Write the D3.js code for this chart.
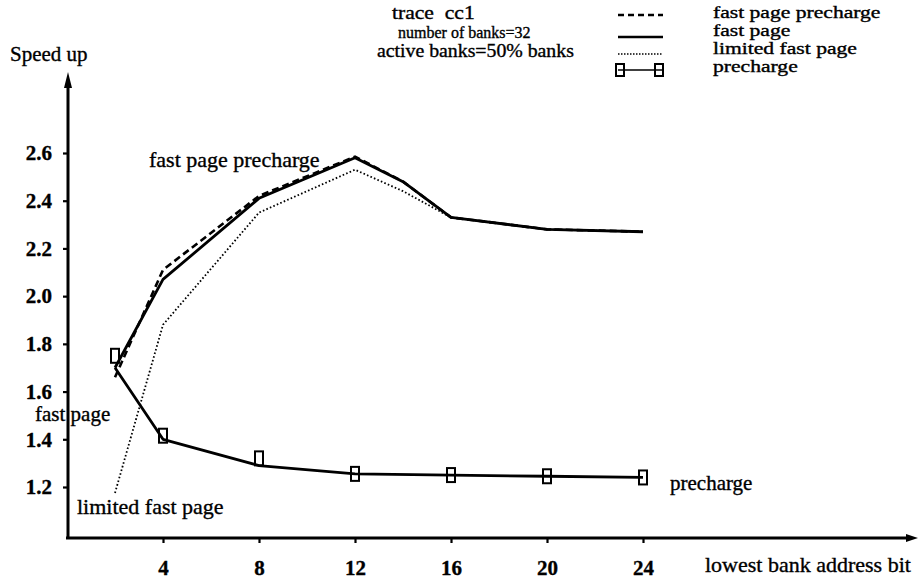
<!DOCTYPE html>
<html>
<head>
<meta charset="utf-8">
<script src="https://cdn.jsdelivr.net/npm/d3@7"></script>
<style>
  body { margin: 0; background: #fff; }
  svg text { font-family: "Liberation Serif", "Times New Roman", serif; fill: #000; stroke: #000; stroke-width: 0.35px; white-space: pre; }
</style>
</head>
<body>
<svg width="918" height="583"></svg>
<script>
// lowest bank address bit (x) and speed up (y)
let bits = [2, 4, 8, 12, 14, 16, 20, 24];
let fastPagePrecharge = [1.66, 2.11, 2.42, 2.585, 2.48, 2.33, 2.28, 2.27];
let fastPage = [1.70, 2.07, 2.41, 2.58, 2.48, 2.33, 2.28, 2.27];
let limitedFastPage = [1.175, 1.88, 2.35, 2.53, 2.44, 2.33, 2.28, 2.27];
let prechargeBits = [2, 4, 8, 12, 16, 20, 24];
let precharge = [1.70, 1.40, 1.29, 1.255, 1.25, 1.245, 1.24];
let prechargeMarks = [1.75, 1.415, 1.32, 1.255, 1.25, 1.245, 1.24];
let xTicks = [4, 8, 12, 16, 20, 24];
let yTicks = [1.2, 1.4, 1.6, 1.8, 2.0, 2.2, 2.4, 2.6];
let titleLines = ["trace  cc1", "number of banks=32", "active banks=50% banks"];
let legendNames = ["fast page precharge", "fast page", "limited fast page", "precharge"];

let svg = d3.select("svg");

let x = d3.scaleLinear().domain([0, 24]).range([67, 643]);
let y = d3.scaleLinear().domain([1.2, 2.6]).range([487, 153]);
let axisY = 538;   // where the x axis line sits
let axisX = 68;    // where the y axis line sits

// axes
let yAxis = svg.append("g")
  .attr("transform", "translate(" + axisX + ",0)")
  .call(d3.axisLeft(y).tickValues(yTicks).tickFormat(d3.format(".1f")).tickSize(5).tickPadding(11));
yAxis.select(".domain").remove();

let xAxis = svg.append("g")
  .attr("transform", "translate(0," + axisY + ")")
  .call(d3.axisBottom(x).tickValues(xTicks).tickFormat(d3.format("d")).tickSize(5).tickPadding(17));
xAxis.select(".domain").remove();

svg.selectAll(".tick line").attr("stroke", "#000").attr("stroke-width", 2.2);
svg.selectAll(".tick text")
  .style("font-size", "21px")
  .style("font-weight", "bold");

// axis lines with arrows
svg.append("line")
  .attr("x1", axisX).attr("y1", 84).attr("x2", axisX).attr("y2", axisY + 1)
  .attr("stroke", "#000").attr("stroke-width", 3);
svg.append("path")
  .attr("d", "M" + (axisX - 4) + ",88L" + axisX + ",72L" + (axisX + 4) + ",88Z")
  .attr("fill", "#000");
svg.append("line")
  .attr("x1", axisX - 2).attr("y1", axisY).attr("x2", 910).attr("y2", axisY)
  .attr("stroke", "#000").attr("stroke-width", 3);
svg.append("path")
  .attr("d", "M906," + (axisY - 4) + "L918," + axisY + "L906," + (axisY + 4) + "Z")
  .attr("fill", "#000");

// curves
let lineGen = d3.line()
  .x(d => x(d[0]))
  .y(d => y(d[1]));

let series = [
  { name: legendNames[2], xs: bits, vals: limitedFastPage, dash: "1.6,2.2", w: 1.8 },
  { name: legendNames[0], xs: bits, vals: fastPagePrecharge, dash: "7,4", w: 2.6 },
  { name: legendNames[1], xs: bits, vals: fastPage, dash: null, w: 2.8 },
  { name: legendNames[3], xs: prechargeBits, vals: precharge, dash: null, w: 2.8 }
];

svg.append("g")
  .selectAll("path")
  .data(series)
  .join("path")
    .attr("fill", "none")
    .attr("stroke", "#000")
    .attr("stroke-width", d => d.w)
    .attr("stroke-dasharray", d => d.dash)
    .attr("stroke-linejoin", "round")
    .attr("d", d => lineGen(d.xs.map((b, i) => [b, d.vals[i]])));

// precharge square marks
svg.append("g")
  .selectAll("rect")
  .data(prechargeBits.map((b, i) => [b, prechargeMarks[i]]))
  .join("rect")
    .attr("x", d => x(d[0]) - 4)
    .attr("y", d => y(d[1]) - 7)
    .attr("width", 8)
    .attr("height", 14)
    .attr("fill", "none")
    .attr("stroke", "#000")
    .attr("stroke-width", 2);

// labels
svg.append("text").attr("x", 10).attr("y", 61).style("font-size", "21px").text("Speed up");
svg.append("text").attr("x", 705).attr("y", 572).style("font-size", "22px").text("lowest bank address bit");
svg.append("text").attr("x", 149).attr("y", 167).style("font-size", "22px").text("fast page precharge");
svg.append("text").attr("x", 35).attr("y", 421).style("font-size", "21px").text("fast page");
svg.append("text").attr("x", 77).attr("y", 514).style("font-size", "22px").text("limited fast page");
svg.append("text").attr("x", 670).attr("y", 490).style("font-size", "21px").text("precharge");

// title block: [x, baseline, font size, horizontal stretch]
let titlePos = [[392, 19, 18, 1.2], [398, 38, 16, 1.0], [377, 57, 18, 1.1]];
svg.append("g")
  .selectAll("text")
  .data(titleLines)
  .join("text")
    .attr("transform", (d, i) => "translate(" + titlePos[i][0] + "," + titlePos[i][1] + ") scale(" + titlePos[i][3] + ",1)")
    .style("font-size", (d, i) => titlePos[i][2] + "px")
    .text(d => d);

// legend
let legendRows = [15, 37, 54, 70];
let legendBase = [18, 36, 54, 72];
let legendStyle = [
  { dash: "6,4", w: 2.6 },
  { dash: null, w: 2.6 },
  { dash: "1.5,1.5", w: 1.6 },
  { dash: null, w: 1.5 }
];
let legend = svg.append("g");
legend.selectAll("line")
  .data(legendNames)
  .join("line")
    .attr("x1", 618).attr("x2", 663)
    .attr("y1", (d, i) => legendRows[i])
    .attr("y2", (d, i) => legendRows[i])
    .attr("stroke", "#000")
    .attr("stroke-width", (d, i) => legendStyle[i].w)
    .attr("stroke-dasharray", (d, i) => legendStyle[i].dash);
legend.selectAll("rect")
  .data([620, 659])
  .join("rect")
    .attr("x", d => d - 4).attr("y", legendRows[3] - 6)
    .attr("width", 8).attr("height", 12)
    .attr("fill", "none").attr("stroke", "#000").attr("stroke-width", 2);
legend.selectAll("text")
  .data(legendNames)
  .join("text")
    .attr("transform", (d, i) => "translate(713," + legendBase[i] + ") scale(1.35,1)")
    .style("font-size", "16px")
    .text(d => d);
</script>
</body>
</html>
